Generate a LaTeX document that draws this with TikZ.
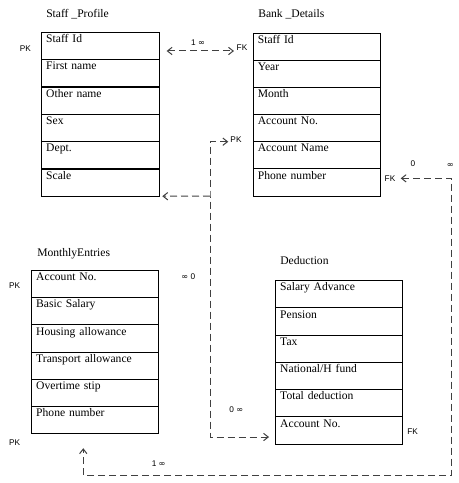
\documentclass[tikz,border=0pt]{standalone}
\usepackage{fontspec}
\setmainfont{Liberation Serif}
\newfontfamily\keyfont{Liberation Sans}
\newfontfamily\symfont{DejaVu Sans}
\newcommand{\inftymark}{{\symfont ∞}}
\usetikzlibrary{arrows.meta}

\begin{document}
\begin{tikzpicture}[x=0.75pt, y=-0.75pt,
  field/.style={draw=black, line width=0.75pt, anchor=north west, outer sep=0pt, inner xsep=3.4pt, inner ysep=0pt, text width=#1, align=left, text height=7.7pt, text depth=12.74pt, font=\fontsize{8.7}{10}\selectfont},
  tabletitle/.style={anchor=base west, inner sep=0pt, font=\fontsize{8.7}{10}\selectfont},
  keytext/.style={inner sep=0pt, font=\keyfont\fontsize{6.2}{7}\selectfont},
  relation/.style={draw=black!75, line width=0.75pt, dash pattern=on 5.25pt off 3pt, >={Straight Barb[length=3.5pt,width=5.5pt]}}]
\useasboundingbox (0,0) rectangle (458,483);
% Staff _Profile
\node[tabletitle] (T1Title) at (46,17) {Staff \_Profile};
\node[field=81.4pt] (T1N0) at (41.7,32.3) {Staff Id};
\node[field=81.4pt] (T1N1) at (41.7,59.6) {First name};
\node[field=81.4pt] (T1N2) at (41.7,87.0) {Other name};
\node[field=81.4pt] (T1N3) at (41.7,114.3) {Sex};
\node[field=81.4pt] (T1N4) at (41.7,141.6) {Dept.};
\node[field=81.4pt] (T1N5) at (41.7,169.0) {Scale};
% Bank _Details
\node[tabletitle] (T2Title) at (258,17.6) {Bank \_Details};
\node[field=88.75pt] (T2N0) at (253.3,33.3) {Staff Id};
\node[field=88.75pt] (T2N1) at (253.3,60.4) {Year};
\node[field=88.75pt] (T2N2) at (253.3,87.5) {Month};
\node[field=88.75pt] (T2N3) at (253.3,114.6) {Account No.};
\node[field=88.75pt] (T2N4) at (253.3,141.7) {Account Name};
\node[field=88.75pt] (T2N5) at (253.3,168.9) {Phone number};
% MonthlyEntries
\node[tabletitle] (T3Title) at (37,256) {MonthlyEntries};
\node[field=88.15pt] (T3N0) at (31.7,270.3) {Account No.};
\node[field=88.15pt] (T3N1) at (31.7,297.6) {Basic Salary};
\node[field=88.15pt] (T3N2) at (31.7,324.9) {Housing allowance};
\node[field=88.15pt] (T3N3) at (31.7,352.2) {Transport allowance};
\node[field=88.15pt] (T3N4) at (31.7,379.4) {Overtime stip};
\node[field=88.15pt] (T3N5) at (31.7,406.7) {Phone number};
% Deduction
\node[tabletitle] (T4Title) at (280,264.5) {Deduction};
\node[field=88.15pt] (T4N0) at (275.7,280.7) {Salary Advance};
\node[field=88.15pt] (T4N1) at (275.7,307.9) {Pension};
\node[field=88.15pt] (T4N2) at (275.7,335.1) {Tax};
\node[field=88.15pt] (T4N3) at (275.7,362.3) {National/H fund};
\node[field=88.15pt] (T4N4) at (275.7,389.6) {Total deduction};
\node[field=88.15pt] (T4N5) at (275.7,416.8) {Account No.};
% keys
\node[keytext] (T1PK) at (25.3,49) {PK};
\node[keytext] (T2FK) at (242,48) {FK};
\node[keytext] (T2PK) at (236,139.5) {PK};
\node[keytext] (T2FKb) at (390,178.5) {FK};
\node[keytext] (T3PK) at (14.7,285.5) {PK};
\node[keytext] (T3PKb) at (14.7,442.5) {PK};
\node[keytext] (T4FK) at (412.7,432) {FK};
% cardinalities
\node[keytext] (C1) at (198,42.5) {1 \inftymark};
\node[keytext] (C2) at (188.3,277) {\inftymark\ 0};
\node[keytext] (C3) at (236.3,409.7) {0 \inftymark};
\node[keytext] (C4) at (413,164) {0};
\node[keytext] (C5) at (450.3,165) {\inftymark};
\node[keytext] (C6) at (158.7,463.8) {1 \inftymark};
% relations
\coordinate (J1) at (210,196);
\coordinate (J2) at (451.7,475);
\draw[relation, <->, shorten <=5.5pt, shorten >=14.5pt] ([yshift=-3.8pt]T1N0.east) -- ([yshift=-3.8pt]T1N0.east -| T2N0.west);
\draw[relation, <->, shorten <=18.75pt, shorten >=5pt] (T2N4.north west) -| (J1) |- ([yshift=-4.95pt]T4N5.west);
\draw[relation, ->, shorten >=2.25pt] (J1) -- (T1N5.south east);
\draw[relation, <->, shorten <=15pt, shorten >=10.7pt] ([yshift=3.15pt]T2N5.east) -| (J2) -| ([xshift=-8.8pt]T3N5.south);
\end{tikzpicture}
\end{document}
